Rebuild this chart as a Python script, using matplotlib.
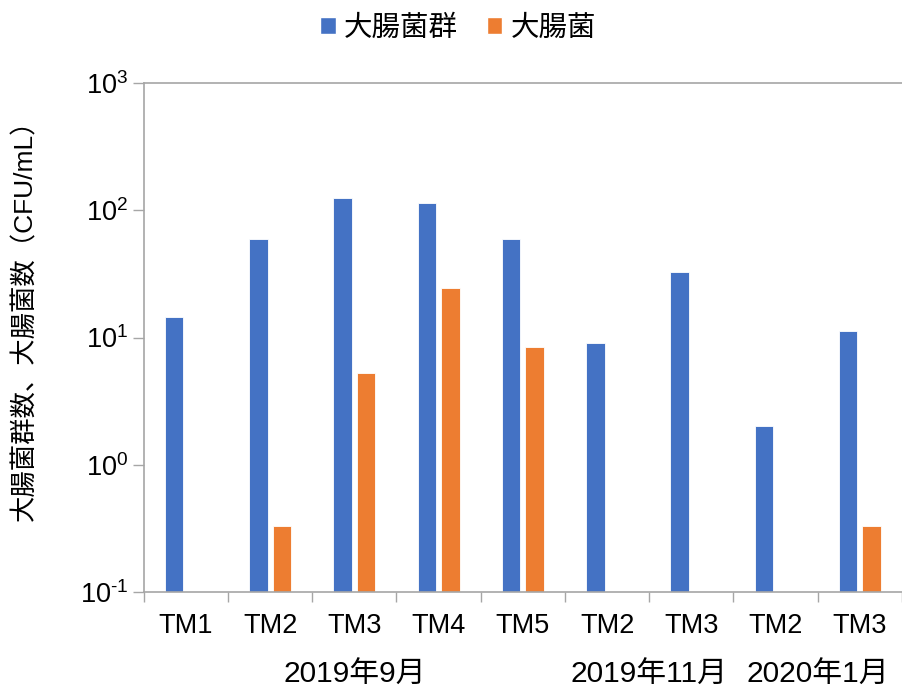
import numpy as np
import matplotlib
matplotlib.use("Agg")
import matplotlib.pyplot as plt
from matplotlib.patches import Patch
from matplotlib.ticker import NullLocator, FixedLocator

plt.rcParams['font.family'] = ['Liberation Sans', 'Noto Sans CJK JP']
plt.rcParams['mathtext.fontset'] = 'custom'
plt.rcParams['mathtext.rm'] = 'Liberation Sans'
plt.rcParams['mathtext.it'] = 'Liberation Sans'

# Sampling points and measured counts (CFU/mL)
sites = ["TM1", "TM2", "TM3", "TM4", "TM5", "TM2", "TM3", "TM2", "TM3"]
coliforms = [14.4, 59, 124, 115, 59, 9.0, 32.5, 2.0, 11.3]
ecoli = [np.nan, 0.33, 5.3, 24.7, 8.4, np.nan, np.nan, np.nan, 0.33]
periods = ["2019年9月", "2019年11月", "2020年1月"]
period_pos = [2, 5.5, 7.5]

blue = "#4472C4"
orange = "#ED7D31"
grey = "#A6A6A6"

fig = plt.figure(figsize=(9.02, 6.89), dpi=100)
ax = fig.add_axes([0.1593, 0.1408, 0.8407, 0.7387])

x = np.arange(len(sites))
w = 0.22
ax.bar(x - 0.14, coliforms, width=w, color=blue, edgecolor="white", linewidth=0.6)
ax.bar(x + 0.14, ecoli, width=w, color=orange, edgecolor="white", linewidth=0.6)

ax.set_yscale("log")
ax.set_ylim(0.1, 1000)
ax.set_xlim(-0.5, len(sites) - 0.5)

ax.yaxis.set_minor_locator(NullLocator())
ax.set_yticks([0.1, 1, 10, 100, 1000])
ax.set_yticklabels(["$10^{\u20101}$", "$10^{0}$", "$10^{1}$", "$10^{2}$", "$10^{3}$"])
ax.tick_params(axis="y", which="major", length=8, width=1, color=grey,
               labelsize=19.5, pad=3)

# category boundaries get tick marks, the names sit at the centres
ax.xaxis.set_major_locator(FixedLocator(np.arange(-0.5, len(sites), 1)))
ax.xaxis.set_major_formatter(plt.NullFormatter())
ax.set_xticks(x, sites, minor=True)
ax.tick_params(axis="x", which="major", length=7, width=1, color=grey)
ax.tick_params(axis="x", which="minor", length=0, labelsize=19.5, pad=15)

for side in ["left", "bottom", "top"]:
    ax.spines[side].set_color(grey)
    ax.spines[side].set_linewidth(1.2)
ax.spines["right"].set_visible(False)

for label, pos in zip(periods, period_pos):
    ax.text(pos, -0.163, label, transform=ax.get_xaxis_transform(),
            ha="center", va="center", fontsize=21.5)

fig.text(0.028, 0.545, "大腸菌群数、大腸菌数（CFU/mL）", rotation=90,
         ha="center", va="center", fontsize=19)

handles = [Patch(facecolor=blue, edgecolor="white"),
           Patch(facecolor=orange, edgecolor="white")]
fig.legend(handles, ["大腸菌群", "大腸菌"], loc="center", bbox_to_anchor=(0.508, 0.959),
           ncol=2, frameon=False, fontsize=20.5, handlelength=0.55, handleheight=0.55,
           handletextpad=0.3, columnspacing=1.0)

fig.savefig("out.png", dpi=100)
